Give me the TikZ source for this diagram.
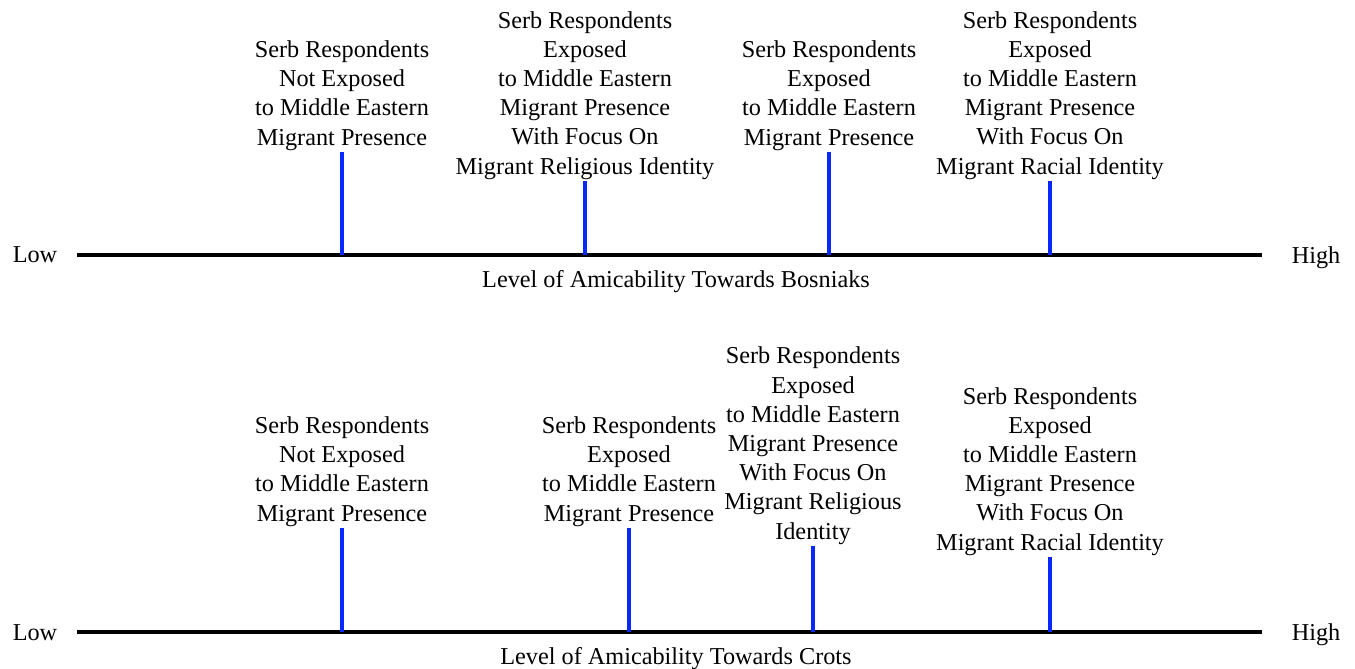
\documentclass[tikz,border=0pt]{standalone}
\usepackage{fontspec}
\setmainfont{Liberation Serif}
\usetikzlibrary{positioning}
\definecolor{tickblue}{RGB}{10,40,250}
\newcommand{\scalefont}{\fontsize{13.8}{16.6}\selectfont}

\begin{document}
\begin{tikzpicture}[
    axisline/.style={line width=2.3pt, draw=black},
    tick/.style={line width=2pt, draw=tickblue},
    lbl/.style={align=center, anchor=south, inner sep=0.8pt, font=\scalefont},
    endlabel/.style={anchor=base, inner sep=0pt, font=\scalefont},
    axistitle/.style={inner sep=0pt, font=\scalefont}
]
\useasboundingbox (0,0) rectangle (27.1,13.36);

% top scale: Bosniaks
\coordinate (aStart) at (1.54,8.26);
\coordinate (aEnd) at (25.24,8.26);
\draw[axisline] (aStart) -- (aEnd);
\node[endlabel] (aLow) at (0.70,8.10) {Low};
\node[endlabel] (aHigh) at (26.32,8.09) {High};
\node[axistitle] (aTitle) at (13.52,7.72) {Level of Amicability Towards Bosniaks};

\coordinate (a1) at (6.84,8.26);
\coordinate (a1top) at (6.84,10.32);
\draw[tick] (a1) -- (a1top);
\node[lbl] (a1lbl) at (a1top) {Serb Respondents\\Not Exposed\\to Middle Eastern\\Migrant Presence};

\coordinate (a2) at (11.70,8.26);
\coordinate (a2top) at (11.70,9.74);
\draw[tick] (a2) -- (a2top);
\node[lbl] (a2lbl) at (a2top) {Serb Respondents\\Exposed\\to Middle Eastern\\Migrant Presence\\With Focus On\\Migrant Religious Identity};

\coordinate (a3) at (16.58,8.26);
\coordinate (a3top) at (16.58,10.32);
\draw[tick] (a3) -- (a3top);
\node[lbl] (a3lbl) at (a3top) {Serb Respondents\\Exposed\\to Middle Eastern\\Migrant Presence};

\coordinate (a4) at (21.00,8.26);
\coordinate (a4top) at (21.00,9.74);
\draw[tick] (a4) -- (a4top);
\node[lbl] (a4lbl) at (a4top) {Serb Respondents\\Exposed\\to Middle Eastern\\Migrant Presence\\With Focus On\\Migrant Racial Identity};

% bottom scale: Crots
\coordinate (bStart) at (1.54,0.72);
\coordinate (bEnd) at (25.24,0.72);
\draw[axisline] (bStart) -- (bEnd);
\node[endlabel] (bLow) at (0.70,0.56) {Low};
\node[endlabel] (bHigh) at (26.32,0.55) {High};
\node[axistitle] (bTitle) at (13.52,0.18) {Level of Amicability Towards Crots};

\coordinate (b1) at (6.84,0.72);
\coordinate (b1top) at (6.84,2.80);
\draw[tick] (b1) -- (b1top);
\node[lbl] (b1lbl) at (b1top) {Serb Respondents\\Not Exposed\\to Middle Eastern\\Migrant Presence};

\coordinate (b2) at (12.58,0.72);
\coordinate (b2top) at (12.58,2.80);
\draw[tick] (b2) -- (b2top);
\node[lbl] (b2lbl) at (b2top) {Serb Respondents\\Exposed\\to Middle Eastern\\Migrant Presence};

\coordinate (b3) at (16.26,0.72);
\coordinate (b3top) at (16.26,2.44);
\draw[tick] (b3) -- (b3top);
\node[lbl] (b3lbl) at (b3top) {Serb Respondents\\Exposed\\to Middle Eastern\\Migrant Presence\\With Focus On\\Migrant Religious\\Identity};

\coordinate (b4) at (21.00,0.72);
\coordinate (b4top) at (21.00,2.22);
\draw[tick] (b4) -- (b4top);
\node[lbl] (b4lbl) at (b4top) {Serb Respondents\\Exposed\\to Middle Eastern\\Migrant Presence\\With Focus On\\Migrant Racial Identity};

\end{tikzpicture}
\end{document}
